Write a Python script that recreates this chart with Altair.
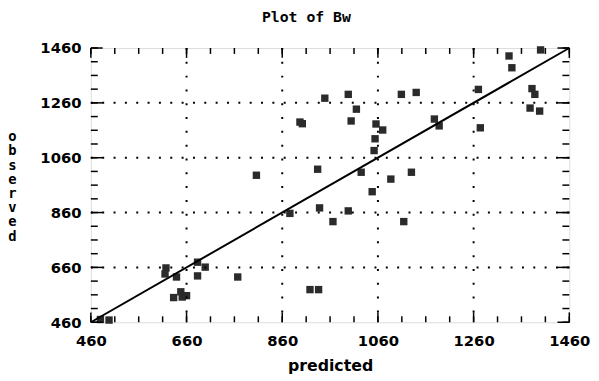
import altair as alt
import pandas as pd

predicted = [949, 897, 902, 934, 806, 998, 1015, 1004, 1109, 1140,
             1056, 1070, 1054, 1052, 1025, 1087, 1130, 1178, 1188, 1270,
             1274, 1334, 1340, 1400, 1382, 1388, 1378, 1398, 876, 938,
             966, 617, 615, 639, 683, 699, 683, 767, 633, 648,
             660, 651, 918, 936, 1048, 998, 1114, 480, 498]
observed = [1277, 1190, 1184, 1018, 996, 1291, 1237, 1194, 1291, 1298,
            1183, 1161, 1129, 1086, 1007, 982, 1007, 1201, 1176, 1309,
            1169, 1431, 1388, 1453, 1312, 1291, 1241, 1230, 857, 877,
            827, 658, 636, 625, 679, 661, 629, 625, 550, 571,
            557, 552, 579, 579, 936, 866, 827, 470, 468]

label_vals = [460, 660, 860, 1060, 1260, 1460]
grid_vals = [660, 860, 1060, 1260]
minor_vals = list(range(460, 1461, 50))
major_vals = [460, 660, 860, 1060, 1260, 1460]
line_x = [460, 1460]
line_y = [460, 1460]
chart_title = ["Plot of Bw"]

W, H = 485, 278
DOM = [460, 1460]
FONT = "DejaVu Sans"

pts = pd.DataFrame({"px": predicted, "py": observed})
grid = pd.DataFrame({"px": grid_vals, "py": grid_vals})
minor = pd.DataFrame({"px": minor_vals, "py": minor_vals})
major = pd.DataFrame({"px": major_vals, "py": major_vals})
line = pd.DataFrame({"px": line_x, "py": line_y})
ttl = pd.DataFrame({"t": chart_title})

xs = alt.Scale(domain=DOM, nice=False, zero=False)
ys = alt.Scale(domain=DOM, nice=False, zero=False)

x_axis = alt.Axis(values=label_vals, format="d", ticks=False, domain=False, grid=False,
                  labelFont=FONT, labelFontSize=15, labelFontWeight="bold",
                  labelColor="black", labelPadding=12, labelFlush=False,
                  titleFont=FONT, titleFontSize=16,
                  titleFontWeight="bold", titleColor="black",
                  titleY=44, titleBaseline="middle")
y_axis = alt.Axis(values=label_vals, format="d", ticks=False, domain=False, grid=False,
                  labelFont=FONT, labelFontSize=15, labelFontWeight="bold",
                  labelColor="black", labelPadding=10, labelFlush=False,
                  titleFont="DejaVu Sans Mono",
                  titleFontSize=14, titleFontWeight="bold", titleColor="black",
                  titleAngle=0, titleX=-80, titleY=90, titleAlign="center",
                  titleBaseline="middle", titleLineHeight=14.4)

XT = "predicted"
YT = list("observed")


def X():
    return alt.X("px:Q", scale=xs, axis=x_axis, title=XT)


def Y():
    return alt.Y("py:Q", scale=ys, axis=y_axis, title=YT)


points = alt.Chart(pts).mark_point(shape="square", filled=True, size=56,
                                   color="#2b2b2b", opacity=1).encode(x=X(), y=Y())

fit = alt.Chart(line).mark_line(color="black", strokeWidth=2).encode(x=X(), y=Y())

vgrid = alt.Chart(grid).mark_rule(color="black", strokeWidth=2,
                                  strokeDash=[2, 12]).encode(x=X())
hgrid = alt.Chart(grid).mark_rule(color="black", strokeWidth=2,
                                  strokeDash=[2, 9.5]).encode(y=Y())


def xticks(df, length):
    top = alt.Chart(df).mark_rule(color="black", strokeWidth=1.5).encode(
        x=X(), y=alt.value(0), y2=alt.value(length))
    bot = alt.Chart(df).mark_rule(color="black", strokeWidth=1.5).encode(
        x=X(), y=alt.value(H), y2=alt.value(H - length))
    return [top, bot]


def yticks(df, length):
    left = alt.Chart(df).mark_rule(color="black", strokeWidth=1.5).encode(
        y=Y(), x=alt.value(0), x2=alt.value(length))
    right = alt.Chart(df).mark_rule(color="black", strokeWidth=1.5).encode(
        y=Y(), x=alt.value(W), x2=alt.value(W - length))
    return [left, right]


title_mark = alt.Chart(ttl).mark_text(
    font="DejaVu Sans Mono", fontSize=15, fontWeight="bold", color="black",
    align="center", baseline="alphabetic").encode(
    text="t:N", x=alt.value(W / 2 - 24), y=alt.value(-26))

layers = [points, fit, vgrid, hgrid] + xticks(minor, 6) + xticks(major, 10) \
    + yticks(minor, 7) + yticks(major, 12) + [title_mark]

chart = alt.layer(*layers).properties(
    width=W, height=H,
    autosize=alt.AutoSizeParams(type="none"),
    padding={"left": 84, "top": 38, "right": 22, "bottom": 57},
).configure_view(stroke="black", strokeWidth=3).configure(background="white")

chart.save("out.html", embed_options={"renderer": "svg", "actions": False})
